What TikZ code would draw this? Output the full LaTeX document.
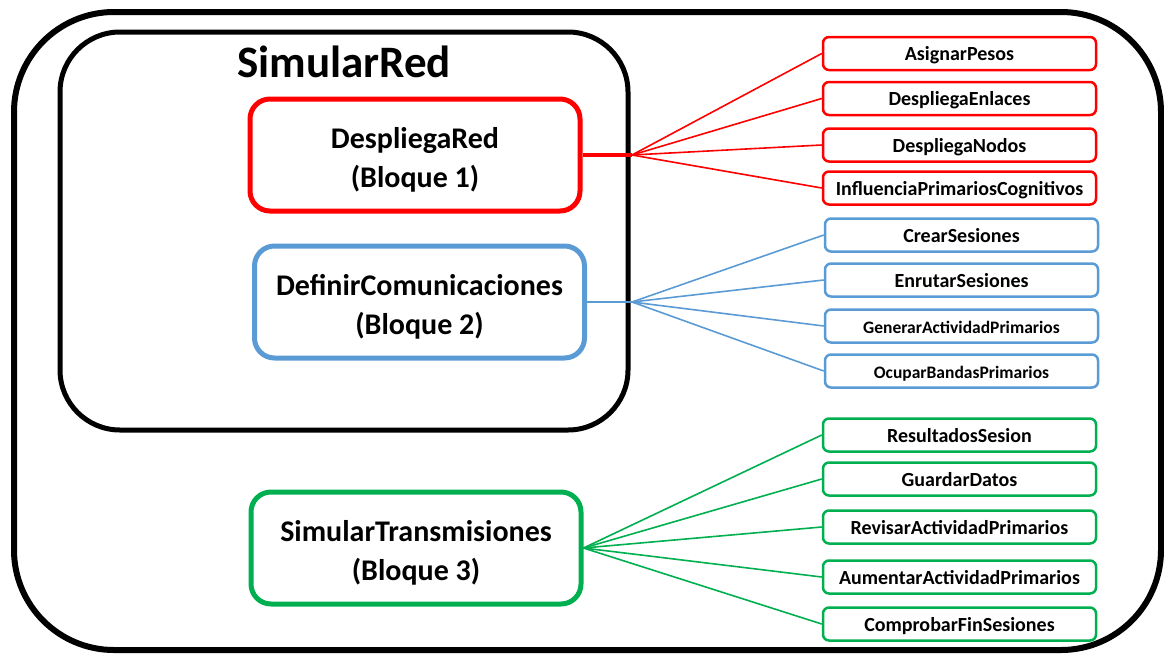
\documentclass[tikz,border=0pt]{standalone}
\usepackage{fontspec}
\setmainfont{Carlito}
\usepackage{tikz}
\usetikzlibrary{positioning}
\usepackage{xcolor}
\definecolor{redline}{RGB}{255,0,0}
\definecolor{blueline}{RGB}{91,155,213}
\definecolor{greenline}{RGB}{0,176,80}
\tikzstyle{block} = [rectangle, rounded corners=20pt, line width=5pt, minimum width=330pt, minimum height=112pt, align=center, text height=68pt, text depth=4pt, font=\fontsize{30}{39}\selectfont\bfseries]
\tikzstyle{task} = [rectangle, rounded corners=6pt, line width=2.5pt, minimum width=273pt, minimum height=33pt, inner sep=0pt, text height=16pt, text depth=2pt, font=\fontsize{20}{24}\selectfont\bfseries]
\tikzstyle{fan} = [line width=1.6pt]

\begin{document}
\begin{tikzpicture}[x=1pt, y=-1pt]
    \useasboundingbox (0,0) rectangle (1164,654);

    % Outer frame and SimularRed box
    \node (outer) [rectangle, rounded corners=100pt, draw, line width=6pt,
          minimum width=1147pt, minimum height=638pt] at (587.5,331) {};
    \node (simred) [rectangle, rounded corners=60pt, draw, line width=5pt,
          minimum width=568pt, minimum height=398pt] at (344,231) {};
    \node (title) [font=\fontsize{45}{50}\selectfont\bfseries] at (344,62) {SimularRed};

    % Blocks
    \node (despliega) [block, draw=redline] at (415,155) {DespliegaRed\\(Bloque 1)};
    \node (definir) [block, draw=blueline] at (419.5,302) {DefinirComunicaciones\\(Bloque 2)};
    \node (simtrans) [block, draw=greenline] at (416,548) {SimularTransmisiones\\(Bloque 3)};

    % Bloque 1 tasks
    \node (asignar) [task, draw=redline] at (959.5,53.5) {AsignarPesos};
    \node (enlaces) [task, draw=redline, below=9.5pt of asignar] {DespliegaEnlaces};
    \node (nodos) [task, draw=redline, below=11pt of enlaces] {DespliegaNodos};
    \node (influencia) [task, draw=redline, below=7.5pt of nodos] {InfluenciaPrimariosCognitivos};

    % Bloque 2 tasks
    \node (crear) [task, draw=blueline] at (961.5,235) {CrearSesiones};
    \node (enrutar) [task, draw=blueline, below=9.5pt of crear] {EnrutarSesiones};
    \node (generar) [task, draw=blueline, below=10.5pt of enrutar, font=\fontsize{17.5}{21}\selectfont\bfseries] {GenerarActividadPrimarios};
    \node (ocupar) [task, draw=blueline, below=9.5pt of generar, font=\fontsize{17.5}{21}\selectfont\bfseries] {OcuparBandasPrimarios};

    % Bloque 3 tasks
    \node (resultados) [task, draw=greenline] at (959.5,435) {ResultadosSesion};
    \node (guardar) [task, draw=greenline, below=8.5pt of resultados] {GuardarDatos};
    \node (revisar) [task, draw=greenline, below=12.5pt of guardar] {RevisarActividadPrimarios};
    \node (aumentar) [task, draw=greenline, below=14.5pt of revisar] {AumentarActividadPrimarios};
    \node (comprobar) [task, draw=greenline, below=11.5pt of aumentar] {ComprobarFinSesiones};

    % Connectors
    \coordinate (redhub) at (632,155);
    \coordinate (bluehub) at (632,302);
    \draw [redline, line width=4pt] (despliega.east) -- (redhub);
    \draw [redline, fan] (redhub) -- (asignar.west);
    \draw [redline, fan] (redhub) -- (enlaces.west);
    \draw [redline, fan] (redhub) -- (nodos.west);
    \draw [redline, fan] (redhub) -- (influencia.west);
    \draw [blueline, line width=2.5pt] (definir.east) -- (bluehub);
    \draw [blueline, fan] (bluehub) -- (crear.west);
    \draw [blueline, fan] (bluehub) -- (enrutar.west);
    \draw [blueline, fan] (bluehub) -- (generar.west);
    \draw [blueline, fan] (bluehub) -- (ocupar.west);
    \draw [greenline, fan] (simtrans.east) -- (resultados.west);
    \draw [greenline, fan] (simtrans.east) -- (guardar.west);
    \draw [greenline, fan] (simtrans.east) -- (revisar.west);
    \draw [greenline, fan] (simtrans.east) -- (aumentar.west);
    \draw [greenline, fan] (simtrans.east) -- (comprobar.west);
\end{tikzpicture}
\end{document}
